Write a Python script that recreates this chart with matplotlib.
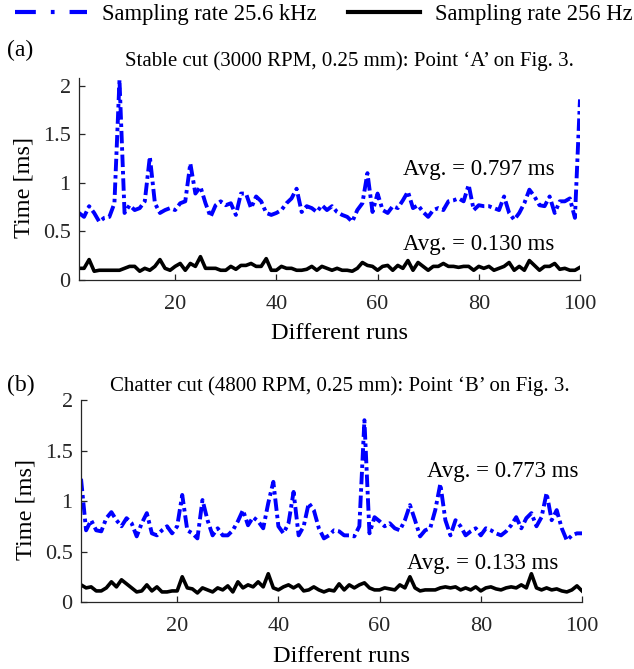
import numpy as np
import matplotlib
matplotlib.use('Agg')
import matplotlib.pyplot as plt
from matplotlib.lines import Line2D

plt.rcParams['font.family'] = ['Liberation Serif', 'DejaVu Serif']

runs = np.arange(1, 101)

# Stable cut (a)
fast_a = [0.69, 0.65, 0.76, 0.69, 0.60, 0.64, 0.65, 0.79, 2.06, 0.69,
          0.77, 0.72, 0.74, 0.81, 1.27, 0.79, 0.69, 0.72, 0.74, 0.72,
          0.79, 0.81, 1.20, 0.89, 0.96, 0.79, 0.65, 0.77, 0.81, 0.77,
          0.79, 0.67, 0.89, 0.89, 0.74, 0.86, 0.81, 0.69, 0.67, 0.69,
          0.72, 0.79, 0.84, 0.94, 0.70, 0.76, 0.74, 0.70, 0.77, 0.72,
          0.76, 0.70, 0.67, 0.65, 0.60, 0.72, 0.79, 1.10, 0.70, 0.89,
          0.72, 0.69, 0.76, 0.74, 0.82, 0.91, 0.74, 0.77, 0.70, 0.65,
          0.72, 0.74, 0.72, 0.81, 0.82, 0.84, 0.81, 0.98, 0.72, 0.77,
          0.76, 0.76, 0.74, 0.72, 0.86, 0.69, 0.62, 0.69, 0.79, 0.93,
          0.86, 0.77, 0.76, 0.86, 0.69, 0.81, 0.81, 0.84, 0.64, 1.86]
slow_a = [0.12, 0.12, 0.21, 0.09, 0.10, 0.10, 0.10, 0.10, 0.10, 0.12,
          0.14, 0.14, 0.09, 0.12, 0.10, 0.14, 0.21, 0.12, 0.10, 0.14,
          0.17, 0.10, 0.17, 0.14, 0.24, 0.12, 0.12, 0.12, 0.10, 0.10,
          0.14, 0.11, 0.15, 0.15, 0.17, 0.14, 0.14, 0.22, 0.10, 0.10,
          0.14, 0.12, 0.12, 0.10, 0.10, 0.11, 0.14, 0.10, 0.14, 0.12,
          0.10, 0.12, 0.10, 0.10, 0.09, 0.12, 0.18, 0.15, 0.14, 0.10,
          0.14, 0.15, 0.10, 0.15, 0.12, 0.20, 0.10, 0.18, 0.14, 0.10,
          0.14, 0.14, 0.17, 0.14, 0.14, 0.13, 0.14, 0.14, 0.10, 0.14,
          0.12, 0.14, 0.10, 0.12, 0.14, 0.18, 0.10, 0.14, 0.10, 0.20,
          0.15, 0.10, 0.14, 0.14, 0.17, 0.11, 0.12, 0.10, 0.10, 0.13]

# Chatter cut (b)
fast_b = [1.22, 0.71, 0.81, 0.71, 0.70, 0.83, 0.89, 0.81, 0.75, 0.83,
          0.78, 0.65, 0.78, 0.88, 0.68, 0.66, 0.71, 0.75, 0.68, 0.75,
          1.06, 0.71, 0.68, 0.63, 1.01, 0.81, 0.66, 0.73, 0.66, 0.66,
          0.71, 0.80, 0.91, 0.76, 0.84, 0.80, 0.73, 0.98, 1.19, 0.75,
          0.68, 0.78, 1.09, 0.66, 0.75, 0.98, 0.91, 0.73, 0.63, 0.66,
          0.71, 0.70, 0.66, 0.66, 0.65, 0.75, 1.80, 0.68, 0.84, 0.80,
          0.75, 0.78, 0.73, 0.71, 0.81, 0.96, 0.81, 0.65, 0.71, 0.73,
          0.91, 1.17, 0.81, 0.66, 0.81, 0.75, 0.66, 0.70, 0.73, 0.66,
          0.73, 0.71, 0.68, 0.66, 0.70, 0.76, 0.84, 0.73, 0.83, 0.88,
          0.75, 0.84, 1.08, 0.81, 0.91, 0.73, 0.61, 0.66, 0.68, 0.68]
slow_b = [0.17, 0.14, 0.15, 0.11, 0.11, 0.14, 0.20, 0.15, 0.22, 0.18,
          0.14, 0.10, 0.11, 0.17, 0.11, 0.15, 0.10, 0.10, 0.11, 0.11,
          0.25, 0.14, 0.13, 0.09, 0.14, 0.12, 0.10, 0.14, 0.12, 0.16,
          0.10, 0.20, 0.14, 0.17, 0.15, 0.20, 0.15, 0.28, 0.14, 0.12,
          0.15, 0.17, 0.14, 0.17, 0.11, 0.12, 0.15, 0.12, 0.10, 0.12,
          0.11, 0.18, 0.12, 0.17, 0.14, 0.17, 0.19, 0.14, 0.12, 0.12,
          0.14, 0.13, 0.12, 0.17, 0.14, 0.25, 0.14, 0.11, 0.12, 0.12,
          0.12, 0.14, 0.15, 0.14, 0.15, 0.12, 0.14, 0.12, 0.15, 0.11,
          0.14, 0.15, 0.13, 0.12, 0.14, 0.15, 0.14, 0.17, 0.14, 0.28,
          0.14, 0.12, 0.14, 0.12, 0.13, 0.11, 0.10, 0.12, 0.16, 0.11]

titles = ["Stable cut (3000 RPM, 0.25 mm): Point \u2018A\u2019 on Fig. 3.",
          "Chatter cut (4800 RPM, 0.25 mm): Point \u2018B\u2019 on Fig. 3."]
panel_tags = ['(a)', '(b)']
avg_fast = ["Avg. = 0.797 ms", "Avg. = 0.773 ms"]
avg_slow = ["Avg. = 0.130 ms", "Avg. = 0.133 ms"]
series_names = ['Sampling rate 25.6 kHz', 'Sampling rate 256 Hz']
y_ticks = [0, 0.5, 1, 1.5, 2]
y_ticklabels = ['0', '0.5', '1', '1.5', '2']
x_ticks = [20, 40, 60, 80, 100]

fig = plt.figure(figsize=(6.34, 6.69), dpi=100)
ax_a = fig.add_axes([0.1246, 0.5815, 0.7902, 0.3019])
ax_b = fig.add_axes([0.1278, 0.1001, 0.7902, 0.3020])

blue = '#0000ff'
# MATLAB-like dash-dot, dense enough to read as a solid zigzag
dashdot = (0, (3.2, 1.0, 0.9, 1.0))
panels = [(ax_a, fast_a, slow_a, 2.08, (65.0, 1.14), (65.0, 0.37)),
          (ax_b, fast_b, slow_b, 2.0, (69.4, 1.29), (65.4, 0.385))]

for i, (ax, fast, slow, ytop, pos_f, pos_s) in enumerate(panels):
    ax.plot(runs, fast, color=blue, lw=2.8, linestyle=dashdot)
    ax.plot(runs, slow, color='black', lw=2.6)
    ax.set_xlim(1, 100)
    ax.set_ylim(0, ytop)
    ax.set_xticks(x_ticks)
    ax.set_yticks(y_ticks)
    ax.set_yticklabels(y_ticklabels)
    ax.spines['top'].set_visible(False)
    ax.spines['right'].set_visible(False)
    for s in ('left', 'bottom'):
        ax.spines[s].set_color('#262626')
        ax.spines[s].set_linewidth(0.9)
    ax.tick_params(direction='in', length=4, width=0.9, labelsize=16,
                   colors='#262626')
    ax.tick_params(axis='x', pad=11)
    ax.tick_params(axis='y', pad=6)
    ax.set_xlabel('Different runs', fontsize=17.5)
    ax.set_ylabel('Time [ms]', fontsize=17.5)
    ax.yaxis.set_label_coords(-0.088, 0.46)
    ax.text(pos_f[0], pos_f[1], avg_fast[i], fontsize=16.5, va='center', ha='left')
    ax.text(pos_s[0], pos_s[1], avg_slow[i], fontsize=16.5, va='center', ha='left')

ax_a.xaxis.set_label_coords(0.52, -0.215)
ax_b.xaxis.set_label_coords(0.52, -0.218)

fig.text(0.011, 0.924, panel_tags[0], fontsize=17, va='center', ha='left')
fig.text(0.197, 0.908, titles[0], fontsize=15, va='center', ha='left')
fig.text(0.011, 0.4245, panel_tags[1], fontsize=17, va='center', ha='left')
fig.text(0.1735, 0.4235, titles[1], fontsize=15, va='center', ha='left')

handles = [Line2D([], [], color=blue, lw=3.0, linestyle=(0, (5.0, 3.6, 0.9, 3.6))),
           Line2D([], [], color='black', lw=3.0)]
fig.legend(handles, series_names, loc='center', bbox_to_anchor=(0.511, 0.978),
           ncol=2, frameon=False, fontsize=16.3, handlelength=3.15,
           columnspacing=1.4, handletextpad=0.68, borderpad=0.2)

fig.savefig('out.png', dpi=100)
